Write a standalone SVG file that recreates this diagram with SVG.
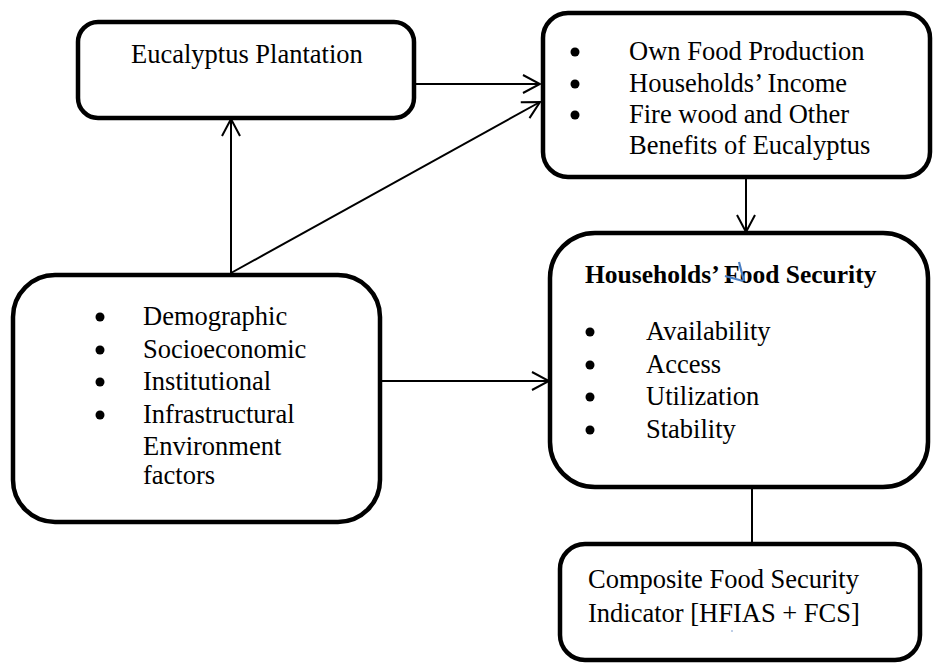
<svg xmlns="http://www.w3.org/2000/svg" width="933" height="663" viewBox="0 0 933 663">
<defs>
<marker id="arr" markerWidth="20" markerHeight="20" refX="18" refY="10" orient="auto" markerUnits="userSpaceOnUse">
<path d="M1,1 L18,10 L1,19" fill="none" stroke="#000" stroke-width="2"/>
</marker>
<style>
.box{fill:#fff;stroke:#000;stroke-width:4.5}
.t{font-family:"Liberation Serif","Times New Roman",serif;font-size:26.5px;fill:#000}
.b{font-weight:bold;font-size:25.5px}
.c{fill:none;stroke:#000;stroke-width:2}
.dot{fill:#000}
</style>
</defs>
<rect width="933" height="663" fill="#fff"/>
<g id="connectors">
<line class="c" x1="414" y1="84" x2="540" y2="84" marker-end="url(#arr)"/>
<line class="c" x1="231" y1="273" x2="540" y2="102" marker-end="url(#arr)"/>
<line class="c" x1="231" y1="273" x2="231" y2="119" marker-end="url(#arr)"/>
<line class="c" x1="746" y1="177" x2="746" y2="232" marker-end="url(#arr)"/>
<line class="c" x1="380" y1="381" x2="549" y2="381" marker-end="url(#arr)"/>
<line class="c" x1="752" y1="487" x2="752" y2="544"/>
</g>
<g id="eucalyptus">
<rect class="box" x="78" y="22" width="336" height="96" rx="20"/>
<text class="t" x="131" y="63">Eucalyptus Plantation</text>
</g>
<g id="benefits">
<rect class="box" x="543" y="13" width="387" height="164" rx="25"/>
<circle class="dot" cx="575" cy="52" r="4.5"/><text class="t" x="629" y="60">Own Food Production</text>
<circle class="dot" cx="575" cy="84" r="4.5"/><text class="t" x="629" y="92">Households’ Income</text>
<circle class="dot" cx="575" cy="115" r="4.5"/><text class="t" x="629" y="123">Fire wood and Other</text>
<text class="t" x="629" y="154">Benefits of Eucalyptus</text>
</g>
<g id="factors">
<rect class="box" x="13" y="275" width="367" height="247" rx="42"/>
<circle class="dot" cx="100" cy="317" r="4.5"/><text class="t" x="143" y="325">Demographic</text>
<circle class="dot" cx="100" cy="350" r="4.5"/><text class="t" x="143" y="358">Socioeconomic</text>
<circle class="dot" cx="100" cy="382" r="4.5"/><text class="t" x="143" y="390">Institutional</text>
<circle class="dot" cx="100" cy="415" r="4.5"/><text class="t" x="143" y="423">Infrastructural</text>
<text class="t" x="143" y="455">Environment</text>
<text class="t" x="143" y="484">factors</text>
</g>
<g id="foodsecurity">
<rect class="box" x="550" y="233" width="378" height="254" rx="45"/>
<text class="t b" x="585" y="283">Households’ Food Security</text>
<path d="M725,276 L743,281 M739,262 L744,281" fill="none" stroke="#4a7fc4" stroke-width="2.2"/>
<circle class="dot" cx="590" cy="332" r="4.5"/><text class="t" x="646" y="340">Availability</text>
<circle class="dot" cx="590" cy="365" r="4.5"/><text class="t" x="646" y="373">Access</text>
<circle class="dot" cx="590" cy="397" r="4.5"/><text class="t" x="646" y="405">Utilization</text>
<circle class="dot" cx="590" cy="430" r="4.5"/><text class="t" x="646" y="438">Stability</text>
</g>
<g id="composite">
<rect class="box" x="560" y="544" width="360" height="116" rx="25"/>
<text class="t" x="588" y="588">Composite Food Security</text>
<text class="t" x="588" y="622">Indicator [HFIAS + FCS]</text>
<circle cx="732" cy="631" r="0.8" fill="#6b8fc7"/>
</g>
</svg>
